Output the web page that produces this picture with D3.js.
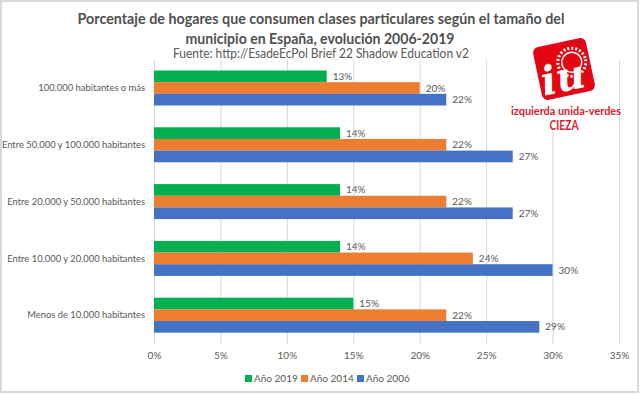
<!DOCTYPE html>
<html><head><meta charset="utf-8">
<script src="https://cdn.jsdelivr.net/npm/d3@7"></script>
<style>body{margin:0;background:#fff}svg{display:block}</style>
</head><body><svg id="c" width="640" height="394"></svg>
<script>
const categories = ["100.000 habitantes o más","Entre 50.000 y 100.000 habitantes","Entre 20.000 y 50.000 habitantes","Entre 10.000 y 20.000 habitantes","Menos de 10.000 habitantes"];
const seriesNames = ["Año 2019","Año 2014","Año 2006"];
const values2019 = [13,14,14,14,15];
const values2014 = [20,22,22,24,22];
const values2006 = [22,27,27,30,29];
const tickValues = [0,5,10,15,20,25,30,35];
const colors = ["#00b050","#ed7d31","#4472c4"];
const titleLines = ["Porcentaje de hogares que consumen clases particulares según el tamaño del","municipio en España, evolución 2006-2019"];
const subtitle = "Fuente: http://EsadeEcPol Brief 22 Shadow Education v2";

const svg = d3.select("#c");
const font = "Lato, 'Open Sans', sans-serif";
svg.append("rect").attr("x",1).attr("y",1).attr("width",637).attr("height",391)
  .attr("fill","#fff").attr("stroke","#d9d9d9").attr("stroke-width",2);

const x = d3.scaleLinear().domain([0,35]).range([154,619]);
const y = d3.scaleBand().domain(categories).range([59.6,343.6]).paddingInner(0.384).paddingOuter(0.192);
const ys = d3.scaleBand().domain(seriesNames).range([0,y.bandwidth()]);

// gridlines
svg.append("g").selectAll("line").data(tickValues).join("line")
  .attr("x1",d=>x(d)+0.5).attr("x2",d=>x(d)+0.5).attr("y1",59.6).attr("y2",344)
  .attr("stroke","#d9d9d9").attr("stroke-width",1);

// tick labels
const xAxis = d3.axisBottom(x).tickValues(tickValues).tickFormat(d=>d+"%").tickSize(0).tickPadding(0);
const ax = svg.append("g").attr("transform","translate(0,352)").call(xAxis);
ax.select(".domain").remove();
ax.selectAll("text").attr("fill","#595959").attr("font-family",font).attr("font-size",10).attr("dy","0.71em");

// category labels
svg.append("g").selectAll("text").data(categories).join("text")
  .attr("x",145).attr("y",d=>y(d)+y.bandwidth()/2).attr("dy","0.35em")
  .attr("text-anchor","end").attr("fill","#595959").attr("font-family",font).attr("font-size",9.4)
  .text(d=>d);

const allSeries = [values2019, values2014, values2006];
allSeries.forEach((vals,si)=>{
  const g = svg.append("g");
  g.selectAll("rect").data(vals).join("rect")
    .attr("x",x(0)).attr("y",(d,i)=>y(categories[i])+ys(seriesNames[si]))
    .attr("width",d=>x(d)-x(0)).attr("height",ys.bandwidth())
    .attr("fill",colors[si]);
  g.selectAll("text").data(vals).join("text")
    .attr("x",d=>x(d)+6).attr("y",(d,i)=>y(categories[i])+ys(seriesNames[si])+ys.bandwidth()/2)
    .attr("dy","0.35em").attr("fill","#595959").attr("font-family",font).attr("font-size",10)
    .text(d=>d+"%");
});

// legend
const legX = [245,301,357];
seriesNames.forEach((s,i)=>{
  svg.append("rect").attr("x",legX[i]).attr("y",375).attr("width",7).attr("height",7).attr("fill",colors[i]);
  svg.append("text").attr("x",legX[i]+9).attr("y",378.5).attr("dy","0.35em")
    .attr("fill","#595959").attr("font-family",font).attr("font-size",10).text(s);
});

// title
svg.append("text").attr("x",321).attr("y",24).attr("text-anchor","middle")
  .attr("font-family",font).attr("font-weight","bold").attr("font-size",15).attr("fill","#505050")
  .attr("textLength",487).attr("lengthAdjust","spacingAndGlyphs").text(titleLines[0]);
svg.append("text").attr("x",320).attr("y",44).attr("text-anchor","middle")
  .attr("font-family",font).attr("font-weight","bold").attr("font-size",15).attr("fill","#505050")
  .attr("textLength",269).attr("lengthAdjust","spacingAndGlyphs").text(titleLines[1]);
svg.append("text").attr("x",321).attr("y",58).attr("text-anchor","middle")
  .attr("font-family",font).attr("font-size",12.5).attr("fill","#595959")
  .attr("textLength",296).attr("lengthAdjust","spacingAndGlyphs").text(subtitle);

// logo
const logo = svg.append("g");
logo.append("rect").attr("x",506).attr("y",62).attr("width",106).attr("height",70).attr("fill","#fff");
const sq = logo.append("g").attr("transform","translate(564,69) rotate(-12)");
sq.append("rect").attr("x",-27).attr("y",-27).attr("width",54).attr("height",54).attr("rx",6).attr("fill","#e30613");
sq.append("circle").attr("cx",9).attr("cy",-5).attr("r",14).attr("fill","none").attr("stroke","#fff")
  .attr("stroke-width",3).attr("stroke-dasharray","2 2");
sq.append("circle").attr("cx",9).attr("cy",-5).attr("r",10).attr("fill","#e30613").attr("stroke","#fff").attr("stroke-width",1.5);
sq.append("text").attr("x",-3).attr("y",22).attr("text-anchor","middle").attr("font-family","'DejaVu Serif', serif")
  .attr("font-weight","bold").attr("font-style","italic").attr("font-size",40).attr("fill","#fff").text("iu");
logo.append("text").attr("x",566).attr("y",115).attr("text-anchor","middle").attr("font-family",font)
  .attr("font-weight","bold").attr("font-size",12).attr("fill","#d8202f")
  .attr("textLength",110).attr("lengthAdjust","spacingAndGlyphs").text("izquierda unida-verdes");
logo.append("text").attr("x",564).attr("y",130).attr("text-anchor","middle").attr("font-family",font)
  .attr("font-weight","bold").attr("font-size",13).attr("fill","#d8202f")
  .attr("textLength",29).attr("lengthAdjust","spacingAndGlyphs").text("CIEZA");
</script></body></html>
